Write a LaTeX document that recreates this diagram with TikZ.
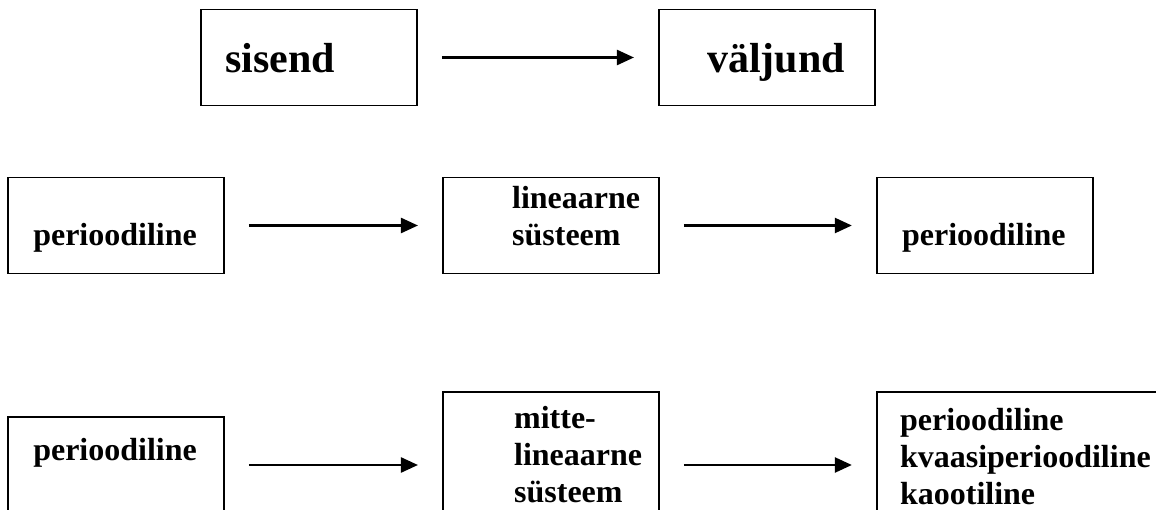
\documentclass[tikz,border=0pt]{standalone}
\usepackage{fontspec}
\setmainfont{Liberation Serif}
\usetikzlibrary{arrows.meta,positioning}

\begin{document}
\begin{tikzpicture}[x=1pt, y=-1pt, node distance=217pt,
    blk/.style={draw, line width=1.9pt, minimum width=216pt, minimum height=96pt, inner sep=0pt},
    big/.style={anchor=base west, inner sep=0pt, font=\fontsize{42}{48}\selectfont\bfseries},
    txt/.style={anchor=base west, inner sep=0pt, align=left, font=\fontsize{32}{37}\selectfont\bfseries},
    flow/.style={-{Triangle[length=17pt, width=15pt]}, line width=2.4pt, shorten <=24pt, shorten >=24pt}]
    \useasboundingbox (0,0) rectangle (1156,510);
    \clip (0,0) rectangle (1156,510);
    \node[blk] (sis) at (309,57.5) {};
    \node[blk, right=240pt of sis] (val) {};
    \node[big] (sis-t) at ([shift={(25,63.5)}]sis.north west) {sisend};
    \node[big] (val-t) at ([shift={(49,63.5)}]val.north west) {väljund};
    \draw[flow] (sis) -- (val);

    \node[blk] (per1) at (116,225.5) {};
    \node[blk, right=of per1] (lin) {};
    \node[blk, right=216pt of lin] (per2) {};
    \node[txt] (per1-t) at ([shift={(26,68.5)}]per1.north west) {perioodiline};
    \node[txt] (lin-t) at ([shift={(70,68.5)}]lin.north west) {lineaarne\\süsteem};
    \node[txt] (per2-t) at ([shift={(26,68.5)}]per2.north west) {perioodiline};
    \draw[flow] (per1) -- (lin);
    \draw[flow] (lin) -- (per2);

    \node[blk] (per3) at (116,465) {};
    \node[blk, minimum height=146pt, right=of per3] (mit) {};
    \node[blk, minimum width=320pt, minimum height=146pt, right=216pt of mit] (res) {};
    \node[txt] (per3-t) at ([shift={(26,44)}]per3.north west) {perioodiline};
    \node[txt] (mit-t) at ([shift={(72,111)}]mit.north west) {mitte-\\lineaarne\\süsteem};
    \node[txt] (res-t) at ([shift={(24,113)}]res.north west) {perioodiline\\kvaasiperioodiline\\kaootiline};
    \draw[flow] (per3) -- (mit);
    \draw[flow] (mit) -- (res);
\end{tikzpicture}
\end{document}
